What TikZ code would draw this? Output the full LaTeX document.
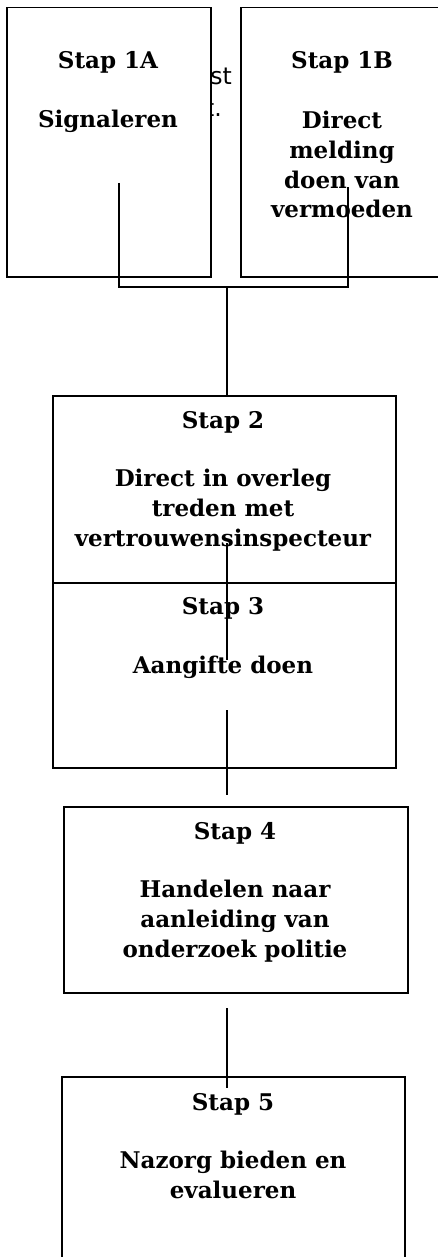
\documentclass[tikz,border=0pt]{standalone}
\usepackage{fontspec}
\setmainfont{DejaVu Serif}
\newfontfamily\strayfont{DejaVu Sans}
\begin{document}
\begin{tikzpicture}[x=1pt,y=-1pt,
  box/.style={draw, line width=1.5pt, fill=white, anchor=north west, inner sep=0pt},
  lbl/.style={font=\bfseries\fontsize{23}{29.7}\selectfont, align=center, inner sep=0pt, anchor=base},
  stray/.style={font=\strayfont\fontsize{23.5}{32}\selectfont, inner sep=0pt, anchor=base east},
  conn/.style={line width=1.2pt}]
\useasboundingbox (0,0) rectangle (438,1257);
% stray text partly hidden behind box 1A
\node[stray] (s1) at (232,85) {st};
\node[stray] (s2) at (222,117) {t.};
% boxes
\node[box, minimum width=204pt, minimum height=269pt] (b1a) at (6,7) {};
\node[box, minimum width=204pt, minimum height=269pt] (b1b) at (240,7) {};
\node[box, minimum width=343pt, minimum height=187pt] (b2) at (52,395) {};
\node[box, minimum width=343pt, minimum height=185pt] (b3) at (52,582) {};
\node[box, minimum width=344pt, minimum height=186pt] (b4) at (63,806) {};
\node[box, minimum width=343pt, minimum height=204pt] (b5) at (61,1076) {};
% labels (multi-line nodes are anchored at the baseline of their last line)
\node[lbl] (t1a) at (108,69) {Stap 1A};
\node[lbl] (d1a) at (108,128) {Signaleren};
\node[lbl] (t1b) at (342,69) {Stap 1B};
\node[lbl] (d1b) at (342,218) {Direct\\melding\\doen van\\vermoeden};
\node[lbl] (t2) at (223,428) {Stap 2};
\node[lbl] (d2) at (223,546) {Direct in overleg\\treden met\\vertrouwensinspecteur};
\node[lbl] (t3) at (223,614) {Stap 3};
\node[lbl] (d3) at (223,673) {Aangifte doen};
\node[lbl] (t4) at (235,839) {Stap 4};
\node[lbl] (d4) at (235,957) {Handelen naar\\aanleiding van\\onderzoek politie};
\node[lbl] (t5) at (233,1110) {Stap 5};
\node[lbl] (d5) at (233,1198) {Nazorg bieden en\\evalueren};
% connectors
\coordinate (p1a) at (119,183);
\coordinate (p1b) at (348,187);
\coordinate (j) at (227,287);
\draw[conn] (p1a) -- (p1a |- j) -- (p1b |- j) -- (p1b);
\draw[conn] (j) -- (j |- b2.north);
\coordinate (q1) at (227,543);
\coordinate (q2) at (227,660);
\draw[conn] (q1) -- (q2);
\coordinate (r1) at (227,710);
\coordinate (r2) at (227,795);
\draw[conn] (r1) -- (r2);
\coordinate (u1) at (227,1008);
\coordinate (u2) at (227,1088);
\draw[conn] (u1) -- (u2);
\end{tikzpicture}
\end{document}
